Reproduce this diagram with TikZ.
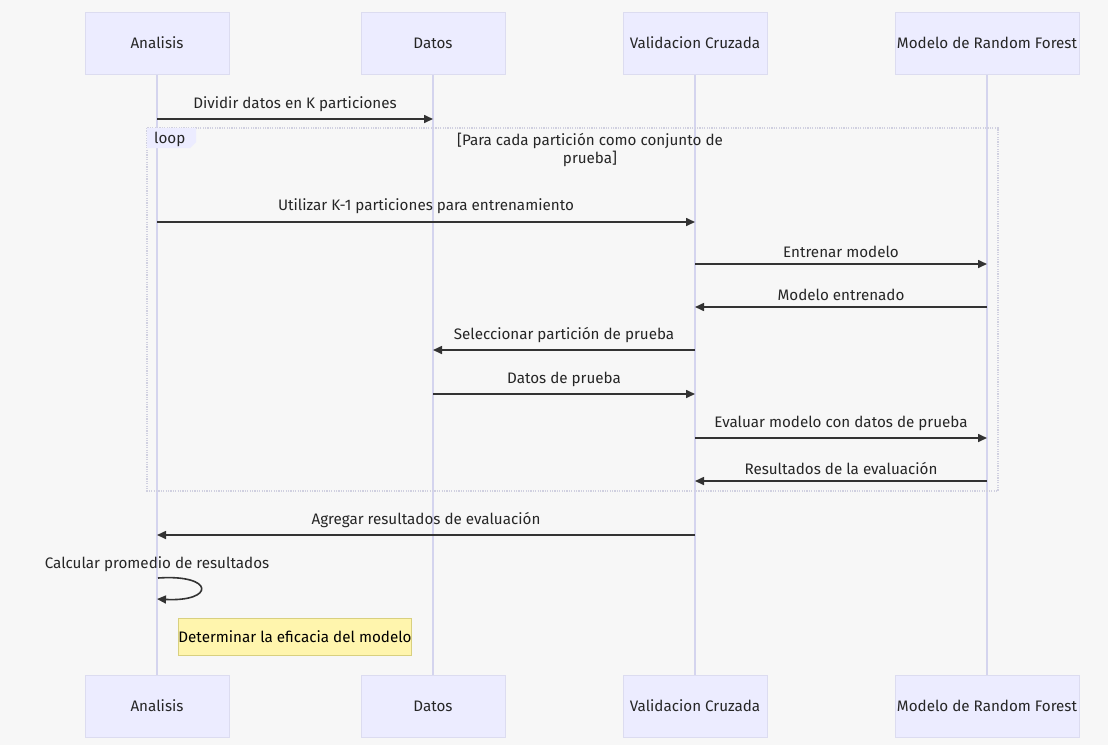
\documentclass[tikz,border=0pt]{standalone}
\usepackage{fontspec}
\setmainfont{Fira Sans}
\usetikzlibrary{arrows.meta}
\definecolor{bgc}{HTML}{F7F7F7}
\definecolor{actfill}{HTML}{ECECFF}
\definecolor{actline}{HTML}{DCDCF0}
\definecolor{lifeline}{HTML}{D4D4EE}
\definecolor{msgc}{HTML}{333333}
\definecolor{txtc}{HTML}{262626}
\definecolor{notefill}{HTML}{FFF5AD}
\definecolor{noteline}{HTML}{D8D080}
\definecolor{loopline}{HTML}{D0D0E0}
\newcommand{\txtsize}{\fontsize{15.2}{18}\selectfont}
\tikzset{
  x=1pt, y=-1pt,
  actor/.style={draw=actline, fill=actfill, line width=0.8pt, minimum width=144pt, minimum height=62pt, inner sep=0pt, font=\txtsize, text=txtc},
  life/.style={draw=lifeline, line width=1.3pt},
  msg/.style={draw=msgc, line width=1.6pt, -{Triangle[length=9pt,width=8pt]}},
  lbl/.style={font=\txtsize, text=txtc, inner sep=0pt},
  notebox/.style={draw=noteline, fill=notefill, line width=0.8pt, minimum width=232pt, minimum height=37pt, inner sep=0pt, font=\txtsize, text=black},
  loopframe/.style={draw=loopline, line width=1.2pt, dash pattern=on 1.2pt off 1.2pt},
}
\begin{document}
\begin{tikzpicture}
\fill[bgc] (0,0) rectangle (1108,745);
\useasboundingbox (0,0) rectangle (1108,745);

% lifelines
\draw[life] (157,74) -- (157,675);
\draw[life] (433,74) -- (433,675);
\draw[life] (695,74) -- (695,675);
\draw[life] (987,74) -- (987,675);

% participants, top and bottom
\node[actor] (aT) at (157,43) {Analisis};
\node[actor] (dT) at (433,43) {Datos};
\node[actor] (vT) at (695,43) {Validacion Cruzada};
\node[actor, minimum width=184pt] (mT) at (987,43) {Modelo de Random Forest};
\node[actor] (aB) at (157,706) {Analisis};
\node[actor] (dB) at (433,706) {Datos};
\node[actor] (vB) at (695,706) {Validacion Cruzada};
\node[actor, minimum width=184pt] (mB) at (987,706) {Modelo de Random Forest};

% anchor points on the lifelines
\foreach \n/\x in {a/157,d/433,v/695,m/987}{
  \foreach \k/\y in {1/119,2/222,3/264,4/307,5/350,6/394,7/438,8/481,9/535}{
    \coordinate (\n\k) at (\x,\y);
  }
}

% loop frame
\draw[loopframe] (147,128) rectangle (998,491);
\fill[actfill] (147,128) -- (196,128) -- (196,142) -- (190,148) -- (147,148) -- cycle;
\node[lbl, anchor=west] (looplbl) at (154,139) {loop};
\node[lbl, align=center] (looptitle) at (590,150) {[Para cada partición como conjunto de\\prueba]};

% messages
\draw[msg] (a1) -- (d1) node[lbl, midway, above=6pt] {Dividir datos en K particiones};
\draw[msg] (a2) -- (v2) node[lbl, midway, above=7pt] {Utilizar K-1 particiones para entrenamiento};
\draw[msg] (v3) -- (m3) node[lbl, midway, above=6pt] {Entrenar modelo};
\draw[msg] (m4) -- (v4) node[lbl, midway, above=6pt] {Modelo entrenado};
\draw[msg] (v5) -- (d5) node[lbl, midway, above=6pt] {Seleccionar partición de prueba};
\draw[msg] (d6) -- (v6) node[lbl, midway, above=6pt] {Datos de prueba};
\draw[msg] (v7) -- (m7) node[lbl, midway, above=6pt] {Evaluar modelo con datos de prueba};
\draw[msg] (m8) -- (v8) node[lbl, midway, above=6pt] {Resultados de la evaluación};
\draw[msg] (v9) -- (a9) node[lbl, midway, above=6pt] {Agregar resultados de evaluación};

% self message
\node[lbl] (selflbl) at (157,564) {Calcular promedio de resultados};
\coordinate (s1) at (158,578);
\coordinate (s2) at (157,599);
\draw[msg] (s1) .. controls (215,574) and (215,602) .. (s2);

% note
\node[notebox] (note) at (295,636.5) {Determinar la eficacia del modelo};
\end{tikzpicture}
\end{document}
